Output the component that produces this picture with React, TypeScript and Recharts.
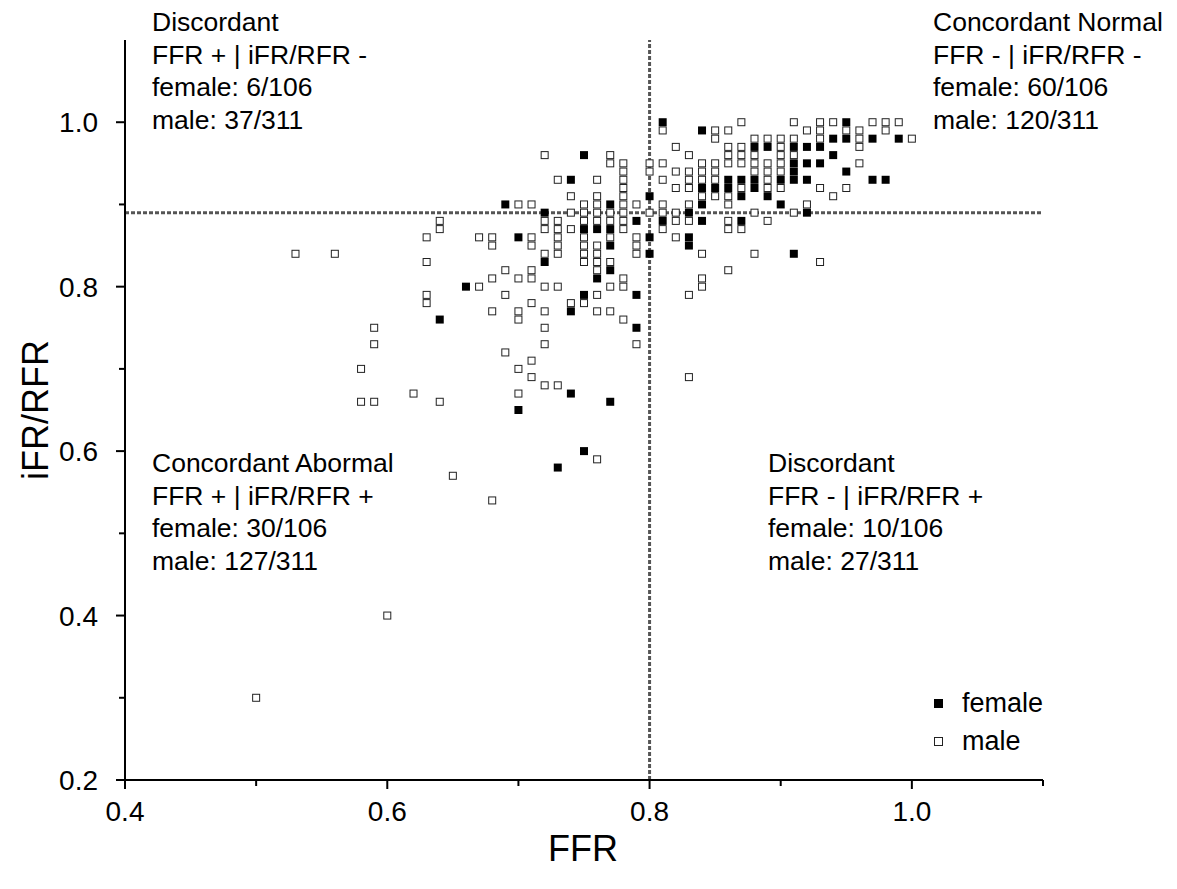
import { ReferenceLine, Scatter, ScatterChart, XAxis, YAxis } from 'recharts'

// [FFR, iFR/RFR]
const femalePoints = [
  [0.64, 0.76], [0.66, 0.8], [0.69, 0.9], [0.7, 0.86], [0.7, 0.65], [0.72, 0.89], [0.72, 0.83],
  [0.73, 0.58], [0.74, 0.93], [0.74, 0.77], [0.74, 0.67], [0.75, 0.96], [0.75, 0.87], [0.75, 0.79],
  [0.75, 0.6], [0.76, 0.87], [0.76, 0.81], [0.77, 0.9], [0.77, 0.87], [0.77, 0.85], [0.77, 0.82],
  [0.77, 0.66], [0.79, 0.88], [0.79, 0.79], [0.79, 0.75], [0.8, 0.91], [0.8, 0.86], [0.8, 0.84],
  [0.81, 1.0], [0.81, 0.88], [0.83, 0.89], [0.83, 0.86], [0.83, 0.85], [0.84, 0.99], [0.84, 0.92],
  [0.84, 0.9], [0.84, 0.88], [0.85, 0.92], [0.86, 0.93], [0.86, 0.92], [0.87, 0.93], [0.87, 0.91],
  [0.87, 0.88], [0.88, 0.97], [0.88, 0.93], [0.88, 0.92], [0.89, 0.97], [0.89, 0.91], [0.9, 0.93],
  [0.9, 0.9], [0.91, 0.97], [0.91, 0.95], [0.91, 0.94], [0.91, 0.93], [0.91, 0.84], [0.92, 0.97],
  [0.92, 0.95], [0.92, 0.93], [0.92, 0.89], [0.93, 0.97], [0.93, 0.95], [0.94, 0.98], [0.94, 0.96],
  [0.95, 1.0], [0.95, 0.98], [0.95, 0.94], [0.97, 0.98], [0.97, 0.93], [0.98, 0.93], [0.99, 0.98],
]

const malePoints = [
  [0.5, 0.3], [0.6, 0.4], [0.53, 0.84], [0.56, 0.84], [0.58, 0.7], [0.58, 0.66], [0.59, 0.75],
  [0.59, 0.73], [0.59, 0.66], [0.62, 0.67], [0.64, 0.66], [0.65, 0.57], [0.68, 0.54], [0.76, 0.59],
  [0.83, 0.69], [0.93, 0.83],
  [0.63, 0.86], [0.63, 0.83], [0.63, 0.79], [0.63, 0.78], [0.64, 0.88], [0.64, 0.87], [0.67, 0.86],
  [0.68, 0.86], [0.68, 0.85], [0.67, 0.8], [0.68, 0.81], [0.69, 0.82], [0.69, 0.79], [0.68, 0.77],
  [0.69, 0.72], [0.7, 0.9], [0.7, 0.81], [0.7, 0.77], [0.7, 0.76], [0.7, 0.7], [0.7, 0.67],
  [0.71, 0.9], [0.71, 0.86], [0.71, 0.85], [0.71, 0.82], [0.71, 0.81], [0.71, 0.78], [0.71, 0.71],
  [0.71, 0.69], [0.72, 0.96], [0.72, 0.88], [0.72, 0.87], [0.72, 0.84], [0.72, 0.8], [0.72, 0.77],
  [0.72, 0.75], [0.72, 0.73], [0.72, 0.68], [0.73, 0.93], [0.73, 0.88], [0.73, 0.87], [0.73, 0.86],
  [0.73, 0.85], [0.73, 0.84], [0.73, 0.8], [0.73, 0.68], [0.74, 0.91], [0.74, 0.89], [0.74, 0.87],
  [0.74, 0.78], [0.75, 0.9], [0.75, 0.89], [0.75, 0.88], [0.75, 0.86], [0.75, 0.85], [0.75, 0.84],
  [0.75, 0.83], [0.75, 0.78], [0.76, 0.93], [0.76, 0.91], [0.76, 0.9], [0.76, 0.89], [0.76, 0.88],
  [0.76, 0.85], [0.76, 0.84], [0.76, 0.83], [0.76, 0.82], [0.76, 0.79], [0.76, 0.77], [0.77, 0.96],
  [0.77, 0.95], [0.77, 0.89], [0.77, 0.88], [0.77, 0.86], [0.77, 0.83], [0.77, 0.8], [0.77, 0.77],
  [0.78, 0.95], [0.78, 0.94], [0.78, 0.93], [0.78, 0.92], [0.78, 0.91], [0.78, 0.9], [0.78, 0.89],
  [0.78, 0.88], [0.78, 0.87], [0.78, 0.81], [0.78, 0.8], [0.78, 0.76], [0.79, 0.9], [0.79, 0.86],
  [0.79, 0.85], [0.79, 0.84], [0.79, 0.73], [0.8, 0.95], [0.8, 0.94], [0.8, 0.89],
  [0.81, 0.99], [0.81, 0.95], [0.81, 0.93], [0.81, 0.9], [0.81, 0.89], [0.81, 0.87], [0.82, 0.97],
  [0.82, 0.94], [0.82, 0.92], [0.82, 0.89], [0.82, 0.88], [0.82, 0.86], [0.83, 0.96], [0.83, 0.94],
  [0.83, 0.93], [0.83, 0.92], [0.83, 0.9], [0.83, 0.88], [0.83, 0.79], [0.84, 0.95], [0.84, 0.94],
  [0.84, 0.93], [0.84, 0.91], [0.84, 0.84], [0.84, 0.81], [0.84, 0.8], [0.85, 0.99], [0.85, 0.98],
  [0.85, 0.95], [0.85, 0.94], [0.85, 0.93], [0.85, 0.91], [0.86, 0.99], [0.86, 0.97], [0.86, 0.96],
  [0.86, 0.95], [0.86, 0.91], [0.86, 0.9], [0.86, 0.88], [0.86, 0.87], [0.86, 0.82], [0.87, 1.0],
  [0.87, 0.97], [0.87, 0.96], [0.87, 0.95], [0.87, 0.92], [0.87, 0.87], [0.88, 0.98], [0.88, 0.96],
  [0.88, 0.95], [0.88, 0.94], [0.88, 0.89], [0.88, 0.84], [0.89, 0.98], [0.89, 0.95], [0.89, 0.94],
  [0.89, 0.93], [0.89, 0.92], [0.89, 0.88], [0.9, 0.98], [0.9, 0.97], [0.9, 0.96], [0.9, 0.95],
  [0.9, 0.94], [0.9, 0.92], [0.91, 1.0], [0.91, 0.98], [0.91, 0.96], [0.91, 0.89], [0.92, 0.99],
  [0.92, 0.9], [0.93, 1.0], [0.93, 0.99], [0.93, 0.98], [0.93, 0.92], [0.94, 1.0], [0.94, 0.91],
  [0.95, 0.99], [0.95, 0.92], [0.96, 0.99], [0.96, 0.98], [0.96, 0.97], [0.96, 0.95], [0.97, 1.0],
  [0.98, 1.0], [0.98, 0.99], [0.99, 1.0], [1.0, 0.98],
]

const xTicks = [0.4, 0.5, 0.6, 0.7, 0.8, 0.9, 1.0, 1.1]
const yTicks = [0.2, 0.3, 0.4, 0.5, 0.6, 0.7, 0.8, 0.9, 1.0]
const ffrCutoff = 0.8
const ifrCutoff = 0.89

const quadrantNotes = [
  { lines: ['Discordant', 'FFR + | iFR/RFR -', 'female: 6/106', 'male: 37/311'], left: 152, top: 6 },
  { lines: ['Concordant Normal', 'FFR - | iFR/RFR -', 'female: 60/106', 'male: 120/311'], left: 933, top: 6 },
  { lines: ['Concordant Abormal', 'FFR + | iFR/RFR +', 'female: 30/106', 'male: 127/311'], left: 152, top: 447 },
  { lines: ['Discordant', 'FFR - | iFR/RFR +', 'female: 10/106', 'male: 27/311'], left: 768, top: 447 },
]

const femaleData = femalePoints.map(([ffr, ifr]) => ({ ffr, ifr }))
const maleData = malePoints.map(([ffr, ifr]) => ({ ffr, ifr }))

const FONT = 'Arial, "Liberation Sans", sans-serif'

const isMajor = (v: number) => Math.round(v * 10) % 2 === 0

const FilledSquare = (p: any) => (
  <rect x={p.cx - 4} y={p.cy - 4} width={8} height={8} fill="#000" />
)
const OpenSquare = (p: any) => (
  <rect x={p.cx - 3.5} y={p.cy - 3.5} width={7} height={7} fill="#fff" stroke="#222" strokeWidth={1} />
)

const XTick = ({ x, y, payload }: any) => {
  const major = isMajor(payload.value)
  return (
    <g>
      <line x1={x} x2={x} y1={y} y2={y + (major ? 9 : 6)} stroke="#000" strokeWidth={2} />
      {major && (
        <text x={x} y={y + 41} textAnchor="middle" fontSize={28} fontFamily={FONT} fill="#000">
          {payload.value.toFixed(1)}
        </text>
      )}
    </g>
  )
}

const YTick = ({ x, y, payload }: any) => {
  const major = isMajor(payload.value)
  return (
    <g>
      <line x1={x} x2={x - (major ? 9 : 6)} y1={y} y2={y} stroke="#000" strokeWidth={2} />
      {major && (
        <text x={x - 27} y={y + 10} textAnchor="end" fontSize={28} fontFamily={FONT} fill="#000">
          {payload.value.toFixed(1)}
        </text>
      )}
    </g>
  )
}

export default function App() {
  return (
    <div style={{ position: 'relative', width: 1170, height: 880, margin: '-8px 0 0 -8px', background: '#fff' }}>
      <ScatterChart width={1170} height={880} margin={{ top: 40, right: 127, bottom: 40, left: 45 }}>
        <XAxis
          dataKey="ffr"
          type="number"
          domain={[0.4, 1.1]}
          ticks={xTicks}
          interval={0}
          tick={<XTick />}
          tickLine={false}
          tickSize={0}
          tickMargin={0}
          axisLine={{ stroke: '#000', strokeWidth: 2 }}
          height={60}
          allowDataOverflow
        />
        <YAxis
          dataKey="ifr"
          type="number"
          domain={[0.2, 1.1]}
          ticks={yTicks}
          interval={0}
          tick={<YTick />}
          tickLine={false}
          tickSize={0}
          tickMargin={0}
          axisLine={{ stroke: '#000', strokeWidth: 2 }}
          width={80}
          allowDataOverflow
        />
        <ReferenceLine x={ffrCutoff} stroke="#555" strokeWidth={3} strokeDasharray="4 2" />
        <ReferenceLine y={ifrCutoff} stroke="#555" strokeWidth={3} strokeDasharray="4 2" />
        <Scatter name="male" data={maleData} shape={<OpenSquare />} isAnimationActive={false} />
        <Scatter name="female" data={femaleData} shape={<FilledSquare />} isAnimationActive={false} />
      </ScatterChart>
      <div style={{ position: 'absolute', left: 934, top: 684, fontFamily: FONT, fontSize: 27, lineHeight: '38px' }}>
        <div style={{ display: 'flex', alignItems: 'center' }}>
          <span style={{ width: 9, height: 9, background: '#000', marginRight: 19 }} />
          female
        </div>
        <div style={{ display: 'flex', alignItems: 'center' }}>
          <span style={{ width: 7, height: 7, border: '1px solid #222', background: '#fff', marginRight: 19 }} />
          male
        </div>
      </div>
      <div style={{ position: 'absolute', left: 548, top: 828, fontFamily: FONT, fontSize: 36 }}>FFR</div>
      <div
        style={{
          position: 'absolute', left: 36, top: 410, fontFamily: FONT, fontSize: 36,
          transform: 'translate(-50%, -50%) rotate(-90deg)', whiteSpace: 'nowrap',
        }}
      >
        iFR/RFR
      </div>
      {quadrantNotes.map((note, i) => (
        <div
          key={i}
          style={{
            position: 'absolute', left: note.left, top: note.top, fontFamily: FONT,
            fontSize: 26.5, lineHeight: '32.5px', whiteSpace: 'nowrap', color: '#000',
          }}
        >
          {note.lines.map((l) => (
            <div key={l}>{l}</div>
          ))}
        </div>
      ))}
    </div>
  )
}
